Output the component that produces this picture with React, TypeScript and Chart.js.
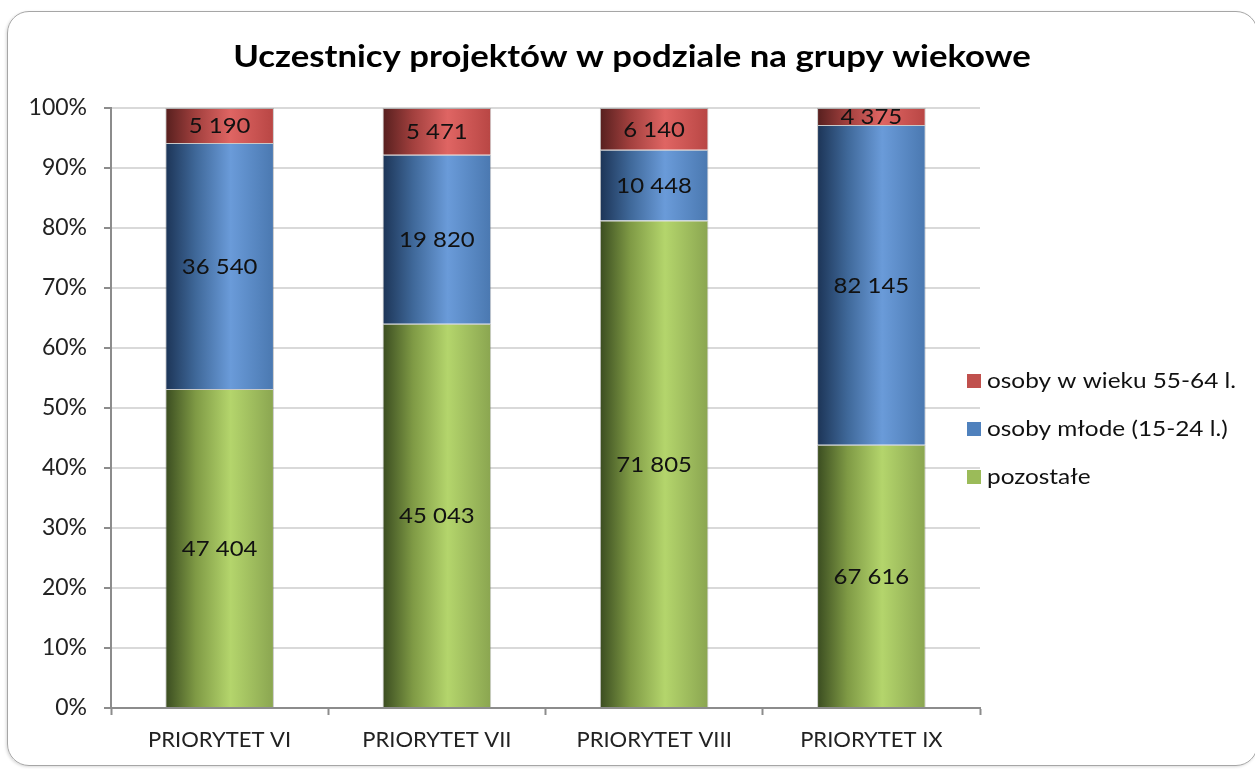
import React, { useEffect, useRef } from "react";
import { Chart, registerables } from "chart.js";

Chart.register(...registerables);

const TITLE = "Uczestnicy projektów w podziale na grupy wiekowe";
const categories = ["PRIORYTET VI", "PRIORYTET VII", "PRIORYTET VIII", "PRIORYTET IX"];
const pozostale = [47404, 45043, 71805, 67616];
const mlode = [36540, 19820, 10448, 82145];
const starsze = [5190, 5471, 6140, 4375];
const seriesNames = ["pozostałe", "osoby młode (15-24 l.)", "osoby w wieku 55-64 l."];
const yTicks = [0, 10, 20, 30, 40, 50, 60, 70, 80, 90, 100];

const FONT = "Lato, 'Open Sans', sans-serif";
const CAT_PCT = 0.5;

const palettes = [
  { dark: "#3a4c20", mid: "#7f9a45", light: "#b4d56c", edge: "#8aa550", flat: "#9bbb59" },
  { dark: "#1c3456", mid: "#3f6899", light: "#6a9bd9", edge: "#4a78b0", flat: "#4f81bd" },
  { dark: "#561f1e", mid: "#a2403e", light: "#df6563", edge: "#b84644", flat: "#c0504d" },
];

const totals = categories.map((_, i) => pozostale[i] + mlode[i] + starsze[i]);
const raw = [pozostale, mlode, starsze];
const pct = raw.map((arr) => arr.map((v, i) => (v / totals[i]) * 100));

const fmt = (n: number) => n.toString().replace(/\B(?=(\d{3})+(?!\d))/g, " ");

function stretchText(c: CanvasRenderingContext2D, text: string, x: number, y: number, sx: number) {
  c.save();
  c.translate(x, y);
  c.scale(sx, 1);
  c.fillText(text, 0, 0);
  c.restore();
}

export default function App() {
  const ref = useRef<HTMLCanvasElement | null>(null);

  useEffect(() => {
    if (!ref.current) return;

    const gradientFor = (dsIndex: number) => (ctx: any) => {
      const chart = ctx.chart;
      const p = palettes[dsIndex];
      const xs = chart.scales && chart.scales.x;
      if (!xs || ctx.dataIndex === undefined) return p.flat;
      const cx = xs.getPixelForValue(ctx.dataIndex);
      const half = ((xs.width / categories.length) * CAT_PCT) / 2;
      if (!isFinite(cx) || !isFinite(half)) return p.flat;
      const g = chart.ctx.createLinearGradient(cx - half, 0, cx + half, 0);
      g.addColorStop(0, p.dark);
      g.addColorStop(0.28, p.mid);
      g.addColorStop(0.6, p.light);
      g.addColorStop(1, p.edge);
      return g;
    };

    const labelPlugin = {
      id: "segLabels",
      afterDatasetsDraw(chart: any) {
        const c = chart.ctx;
        c.save();
        c.font = `21px ${FONT}`;
        c.fillStyle = "#111";
        c.textAlign = "center";
        c.textBaseline = "middle";
        chart.data.datasets.forEach((_: any, di: number) => {
          const meta = chart.getDatasetMeta(di);
          meta.data.forEach((el: any, i: number) => {
            const y = (el.y + el.base) / 2;
            stretchText(c, fmt(raw[di][i]), el.x, y + 1, 1.14);
          });
        });
        c.restore();
      },
    };

    const decorPlugin = {
      id: "decor",
      afterDraw(chart: any) {
        const c = chart.ctx;
        c.save();
        c.font = `bold 31px ${FONT}`;
        c.fillStyle = "#000";
        c.textAlign = "center";
        c.textBaseline = "alphabetic";
        stretchText(c, TITLE, 632, 67, 1.12);

        const order = [2, 1, 0];
        const rows = [381, 429, 477];
        c.font = `21px ${FONT}`;
        c.textAlign = "left";
        c.textBaseline = "middle";
        order.forEach((di, k) => {
          c.fillStyle = palettes[di].flat;
          c.fillRect(967, rows[k] - 7, 14, 14);
          c.fillStyle = "#111";
          stretchText(c, seriesNames[di], 987, rows[k], 1.16);
        });
        c.restore();
      },
    };

    const chart = new Chart(ref.current, {
      type: "bar",
      data: {
        labels: categories,
        datasets: [0, 1, 2].map((di) => ({
          label: seriesNames[di],
          data: pct[di],
          backgroundColor: gradientFor(di),
          borderColor: "rgba(100,100,100,0.35)",
          borderWidth: 1,
          categoryPercentage: CAT_PCT,
          barPercentage: 1,
        })),
      },
      options: {
        responsive: false,
        animation: false,
        layout: { padding: { left: 0, top: 108, right: 275, bottom: 0 } },
        plugins: {
          legend: { display: false },
          title: { display: false },
          tooltip: { enabled: false },
        },
        scales: {
          x: {
            stacked: true,
            grid: {
              drawOnChartArea: false,
              drawTicks: true,
              tickLength: 7,
              tickColor: "#8c8c8c",
              tickWidth: 2,
              offset: true,
            },
            border: { color: "#8c8c8c", width: 2 },
            ticks: {
              color: "#222",
              font: { family: FONT, size: 22 },
              padding: 12,
            },
            afterFit: (s: any) => {
              s.height = 769 - 708;
            },
          },
          y: {
            stacked: true,
            min: 0,
            max: 100,
            afterBuildTicks: (s: any) => {
              s.ticks = yTicks.map((v) => ({ value: v }));
            },
            grid: {
              color: "#d9d9d9",
              lineWidth: 2,
              tickLength: 7,
              tickColor: "#8c8c8c",
              tickWidth: 2,
            },
            border: { color: "#8c8c8c", width: 2 },
            ticks: {
              color: "#222",
              font: { family: FONT, size: 23 },
              padding: 17,
              callback: (v: any) => `${v}%`,
            },
            afterFit: (s: any) => {
              s.width = 111;
            },
          },
        },
      },
      plugins: [labelPlugin, decorPlugin],
    });

    return () => chart.destroy();
  }, []);

  return (
    <div
      style={{
        position: "fixed",
        left: 0,
        top: 0,
        width: 1255,
        height: 769,
        overflow: "hidden",
        background: "#fff",
      }}
    >
      <div
        style={{
          position: "absolute",
          left: 7,
          top: 11,
          width: 1251,
          height: 755,
          border: "1.5px solid #a6a6a6",
          borderRadius: 22,
          boxSizing: "border-box",
          boxShadow: "-1px 1px 3px rgba(0,0,0,0.15)",
        }}
      />
      <canvas
        ref={ref}
        width={1255}
        height={769}
        style={{ position: "absolute", left: 0, top: 0, display: "block" }}
      />
    </div>
  );
}
